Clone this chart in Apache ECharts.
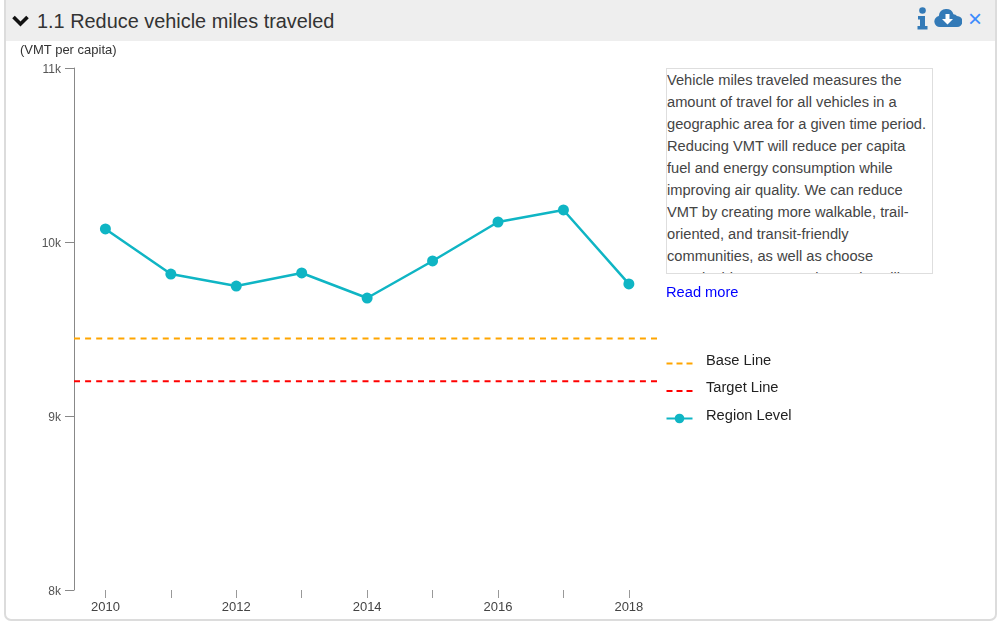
<!DOCTYPE html>
<html><head><meta charset="utf-8">
<script src="https://cdn.jsdelivr.net/npm/echarts@6/dist/echarts.min.js"></script>
<style>
html,body{margin:0;padding:0;background:#fff;width:1000px;height:621px;overflow:hidden;font-family:"Liberation Sans",Arial,sans-serif}
#panel{position:absolute;left:4px;top:-6px;width:989px;height:623px;border:2px solid #dcdcdc;border-radius:7px;background:#fff}
#head{position:absolute;left:6px;top:0;width:989px;height:41px;background:#eeeeee}
#title{position:absolute;left:37px;top:9px;font-size:19.9px;line-height:24px;color:#333}
#chart{position:absolute;left:0;top:0;width:1000px;height:621px}
#unit{position:absolute;left:20px;top:43px;font-size:13px;line-height:13px;color:#333}
#box{position:absolute;left:666px;top:68px;width:265px;height:204px;border:1px solid #dedede;overflow:hidden;background:#fff;font-size:14.67px;line-height:22px;color:#444;box-sizing:content-box}
#more{position:absolute;left:666px;top:284px;font-size:14.67px;line-height:16px;color:#0000ff}
svg{position:absolute}
#x{position:absolute;left:968px;top:7px;font-size:24px;line-height:24px;color:#3d8bfd}
</style></head><body>
<div id="panel"></div><div id="head"></div>
<svg style="left:11px;top:14px" width="20" height="14" viewBox="0 0 20 14"><polyline points="2.5,3 9.5,10 16.5,3" fill="none" stroke="#111" stroke-width="3.6"/></svg>
<div id="title">1.1 Reduce vehicle miles traveled</div>
<svg style="left:917px;top:7px" width="11" height="23" viewBox="0 0 11 23"><circle cx="5.5" cy="3.5" r="3.3" fill="#337ab7"/><path d="M1 9h7v10h2.500v3.500H0.500V19H3v-6.500H1z" fill="#337ab7"/></svg>
<svg style="left:934px;top:7px" width="28" height="21" viewBox="0 0 28 21"><path d="M6 20a5.500 5.500 0 0 1-1.200-10.900A7 7 0 0 1 12 2a7.500 7.500 0 0 1 7.500 5.200A4.500 4.500 0 0 1 23 9a5.500 5.500 0 0 1 0 11z" fill="#337ab7"/><path d="M11.500 7h4v5h3.500l-5.500 5.500L8 12h3.500z" fill="#fff"/></svg>
<div id="x">×</div>
<div id="chart"></div>
<div id="unit">(VMT per capita)</div>
<div id="box">Vehicle miles traveled measures the<br>amount of travel for all vehicles in a<br>geographic area for a given time period.<br>Reducing VMT will reduce per capita<br>fuel and energy consumption while<br>improving air quality. We can reduce<br>VMT by creating more walkable, trail-<br>oriented, and transit-friendly<br>communities, as well as choose<br>sustainable transportation options like</div>
<div id="more">Read more</div>
<script>
const years = [2010, 2011, 2012, 2013, 2014, 2015, 2016, 2017, 2018];
const yearLabels = [2010, 2012, 2014, 2016, 2018];
const regionLevel = [10075, 9816, 9747, 9822, 9678, 9891, 10115, 10184, 9759];
const baseLine = 9445;
const targetLine = 9200;
const xMin = 2009.52, xMax = 2018.43;
const dashIcon = 'path://M0 0h.01v.01H0zM0 5h6v2H0zM10 5h6v2h-6zM20 5h6v2h-6zM25.990 11.990h.01v.01h-.01z';

const chart = echarts.init(document.getElementById('chart'), null, {renderer: 'canvas'});
const dashed = (name, value, color) => ({
  name, type: 'line', symbol: 'none', silent: true,
  data: [[xMin, value], [xMax, value]],
  lineStyle: {color, width: 2, type: [6, 5.096]},
  itemStyle: {color}
});
chart.setOption({
  animation: false,
  grid: {left: 74, top: 68, width: 583, height: 522},
  xAxis: {
    type: 'value', min: xMin, max: xMax, splitLine: {show: false},
    axisLine: {show: false},
    axisTick: {show: true, length: 8, customValues: years, lineStyle: {color: '#999', width: 1}},
    axisLabel: {customValues: yearLabels, formatter: v => String(v), margin: 11, fontSize: 13, color: '#444', fontFamily: 'Liberation Sans'}
  },
  yAxis: {
    type: 'value', min: 8000, max: 11000, interval: 1000, splitLine: {show: false},
    axisLine: {show: true, lineStyle: {color: '#888', width: 1}},
    axisTick: {show: true, length: 9, lineStyle: {color: '#888', width: 1}},
    axisLabel: {
      formatter: v => '{v|' + (v / 1000) + 'k}', margin: 13,
      rich: {v: {fontSize: 12, color: '#555', fontFamily: 'Liberation Sans', padding: [3, 0, 0, 0]}}
    }
  },
  legend: {
    orient: 'vertical', left: 665.500, top: 353, padding: 0, itemWidth: 26, itemHeight: 12, itemGap: 11,
    selectedMode: false,
    formatter: n => '{t|' + n + '}',
    textStyle: {rich: {t: {fontSize: 14.67, color: '#222', fontFamily: 'Liberation Sans', padding: [0, 0, 6, 8.500]}}},
    data: [{name: 'Base Line', icon: dashIcon}, {name: 'Target Line', icon: dashIcon}, {name: 'Region Level'}]
  },
  series: [
    dashed('Base Line', baseLine, '#ffa500'),
    dashed('Target Line', targetLine, '#ff0000'),
    {
      name: 'Region Level', type: 'line', symbol: 'circle', symbolSize: 11,
      data: years.map((y, i) => [y, regionLevel[i]]),
      lineStyle: {color: '#0fb5c4', width: 2.5}, itemStyle: {color: '#0fb5c4'}
    }
  ]
});
</script>
</body></html>
